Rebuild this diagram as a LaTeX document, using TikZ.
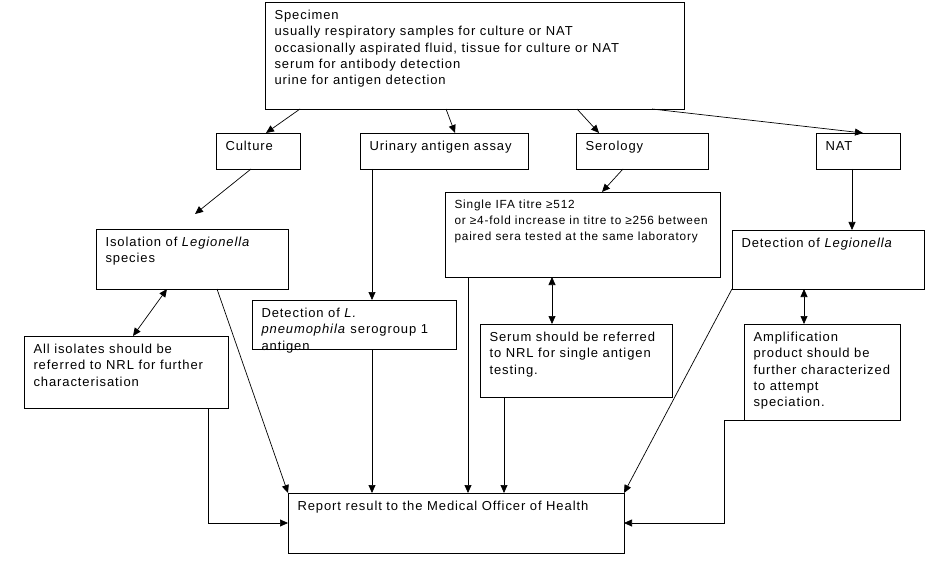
\documentclass[tikz,border=0pt]{standalone}
\usepackage{fontspec}
\setmainfont{Liberation Sans}[LetterSpace=7]
\usetikzlibrary{arrows.meta,calc}
\newcommand\bxt[4]{\parbox[c][#2bp][t]{#1bp}{\fontsize{13bp}{16.3bp}\selectfont\raggedright\leftskip=9.5bp\rightskip=0pt plus 1fil minus 20bp\rule{0pt}{#3bp}#4}}
\tikzset{
  box/.style={draw, inner sep=0pt, outer sep=0pt, anchor=north west, line width=0.8bp},
  arr/.style={-{Triangle[length=8bp,width=7bp]}, line width=0.7bp},
  darr/.style={{Triangle[length=8bp,width=7bp]}-{Triangle[length=8bp,width=7bp]}, line width=0.7bp}
}
\begin{document}
\begin{tikzpicture}[x=1bp,y=1bp]
\useasboundingbox (0,0) rectangle (925,-566);
\node[box] (spec) at (265,-2) {\bxt{419}{107}{17.5}{Specimen\\usually respiratory samples for culture or NAT\\occasionally aspirated fluid, tissue for culture or NAT\\serum for antibody detection\\urine for antigen detection}};
\node[box] (cult) at (216,-133) {\bxt{84}{36}{17.5}{Culture}};
\node[box] (uri) at (360,-133) {\bxt{168}{36}{17.5}{Urinary antigen assay}};
\node[box] (sero) at (576,-133) {\bxt{132}{36}{17.5}{Serology}};
\node[box] (nat) at (816,-133) {\bxt{84}{36}{17.5}{NAT}};
\node[box] (iso) at (96,-229) {\bxt{192}{60}{17.5}{Isolation of \textit{Legionella}\\species}};
\node[box] (ifa) at (445,-192) {\bxt{275}{85}{17}{\fontsize{11.8bp}{16bp}\selectfont Single IFA titre ≥512\\or ≥4-fold increase in titre to ≥256 between\\paired sera tested at the same laboratory}};
\node[box] (detl) at (252,-300) {\bxt{204}{49}{17.5}{Detection of \textit{L.}\\\textit{pneumophila} serogroup 1\\antigen}};
\node[box] (detleg) at (732,-230) {\bxt{192}{59}{17.5}{Detection of \textit{Legionella}}};
\node[box] (all) at (24,-336) {\bxt{204}{72}{17.5}{All isolates should be\\referred to NRL for further\\characterisation}};
\node[box] (serum) at (480,-324) {\bxt{192}{73}{17.5}{Serum should be referred\\to NRL for single antigen\\testing.}};
\node[box] (amp) at (744,-324) {\bxt{156}{96}{17.5}{Amplification\\product should be\\further characterized\\to attempt\\speciation.}};
\node[box] (rep) at (288,-493) {\bxt{336}{60}{17.5}{Report result to the Medical Officer of Health}};
% from specimen
\draw[arr] ($(spec.south west)+(35,0)$) -- ($(cult.north west)+(50,0)$);
\draw[arr] ($(spec.south west)+(181,0)$) -- ($(uri.north west)+(95,0)$);
\draw[arr] ($(spec.south west)+(312,0)$) -- ($(sero.north west)+(23,0)$);
\draw[arr] ($(spec.south west)+(387,0)$) -- ($(nat.north west)+(47,0)$);
% second level
\coordinate (isotop) at ($(iso.north west)+(99,15)$);
\draw[arr] ($(cult.south west)+(35,0)$) -- (isotop);
\draw[arr] ($(sero.south west)+(47,0)$) -- ($(ifa.north west)+(157,0)$);
\draw[arr] ($(uri.south west)+(12,0)$) -- ($(detl.north west)+(120,0)$);
\draw[arr] ($(nat.south west)+(36,0)$) -- ($(detleg.north west)+(120,0)$);
% double arrows
\draw[darr] ($(iso.south west)+(71,0)$) -- ($(all.north west)+(109,0)$);
\draw[darr] ($(ifa.south west)+(107,0)$) -- ($(serum.north west)+(72,0)$);
\draw[darr] ($(detleg.south west)+(72,0)$) -- ($(amp.north west)+(60,0)$);
% to report
\draw[arr] ($(iso.south west)+(121,0)$) -- (rep.north west);
\draw[arr] ($(all.south west)+(184,0)$) |- (rep.west);
\draw[arr] ($(detl.south west)+(120,0)$) -- ($(rep.north west)+(84,0)$);
\draw[arr] ($(ifa.south west)+(23,0)$) -- ($(rep.north west)+(180,0)$);
\draw[arr] ($(serum.south west)+(24,0)$) -- ($(rep.north west)+(216,0)$);
\draw[arr] (detleg.south west) -- (rep.north east);
\draw[arr] (amp.south west) -- ++(-20,0) |- (rep.east);
\end{tikzpicture}
\end{document}
